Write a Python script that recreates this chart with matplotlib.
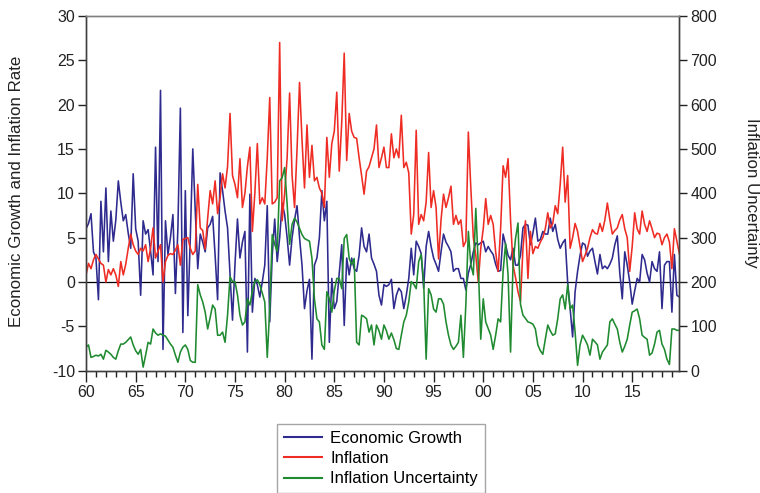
import matplotlib
matplotlib.use("Agg")
import matplotlib.pyplot as plt
import numpy as np
from matplotlib.ticker import MultipleLocator, FixedLocator

plt.rcParams['font.family'] = ['Liberation Sans', 'DejaVu Sans']
plt.rcParams['axes.unicode_minus'] = False

# Quarterly data, 1960Q1 - 2019Q4
start_year = 1960
n_quarters = 240

growth = [
    6.0, 6.6, 7.7, 3.4, 2.7, -2.0, 9.1, 3.4, 10.6, 2.3,
    8.0, 4.6, 7.0, 11.4, 9.0, 6.9, 7.6, 5.5, 3.8, 12.2,
    6.0, 4.6, -1.5, 6.9, 5.4, 5.9, 3.5, 0.8, 15.2, 2.3,
    21.6, -7.6, 6.9, 3.1, 5.0, 7.6, -1.3, 6.0, 19.6, -5.7,
    10.3, -3.8, 5.0, 15.0, 8.0, 1.5, 5.4, 4.5, 3.4, 6.1,
    6.5, 7.4, 3.0, -2.0, 12.3, 10.3, 8.0, 6.1, 1.0, -4.3,
    2.0, 7.1, 2.7, 4.5, 5.7, -7.9, 9.9, -3.4, 0.4, -0.3,
    -1.7, 0.0, 1.9, 8.6, -4.5, 3.0, 7.1, 2.3, 5.0, 8.9,
    7.6, 5.0, 1.9, 5.0, 7.0, 8.6, 5.0, 1.9, -3.0, -1.0,
    0.3, -8.7, 1.9, 2.7, 5.0, 10.3, 6.9, 9.1, -6.8, 0.4,
    -3.0, -2.2, 1.0, 4.2, -4.9, 2.7, 0.8, 2.7, 1.5, 1.2,
    3.0, 6.1, 4.0, 3.4, 5.4, 2.7, 2.0, 1.2, -1.5, -2.6,
    -0.3, -0.5, -0.3, 0.3, -3.0, -1.5, -0.7, -1.1, -3.0, -1.5,
    0.4, 3.8, 0.8, 4.6, 4.0, 3.2, -0.7, 4.0, 5.7, 4.0,
    2.7, 2.0, 1.2, 3.4, 5.4, 4.5, 4.0, 3.4, 1.2, 1.5,
    1.5, 0.4, 0.4, -0.9, 1.0, 2.0, 3.4, 4.4, 4.2, 4.4,
    4.6, 3.4, 4.0, 3.5, 3.1, 2.0, 1.2, 1.3, 5.4, 4.2,
    3.0, 2.5, 3.8, 1.9, 1.9, 3.0, 6.1, 6.5, 6.4, 4.2,
    5.5, 7.2, 4.6, 4.8, 5.7, 5.4, 5.4, 7.2, 5.7, 6.5,
    4.8, 3.8, 4.4, 4.8, 0.0, -3.0, -6.2, -1.1, 1.2, 3.0,
    4.4, 4.2, 2.9, 3.5, 3.8, 2.3, 0.9, 3.1, 1.5, 1.8,
    1.5, 2.0, 2.7, 4.2, 5.2, 1.0, -1.9, 3.4, 1.9, 0.0,
    -2.5, -1.0, 0.4, 0.0, 3.1, 2.5, 1.0, 0.0, 2.3, 1.5,
    1.2, 3.4, -3.0, 1.9, 2.3, 2.3, -3.4, 3.1, -1.5, -1.7,
]

inflation = [
    0.8, 2.1, 1.5, 2.5, 3.1, 2.6, 2.1, 1.9, 0.0, 1.4,
    0.8, 1.5, 0.8, -0.5, 2.3, 0.8, 2.0, 3.8, 5.4, 4.2,
    3.5, 3.1, 3.8, 3.5, 4.2, 2.3, 3.8, 6.1, 2.7, 3.5,
    4.2, 0.0, 2.3, 3.0, 3.2, 3.1, 3.6, 4.2, 1.9, 4.8,
    4.9, 5.0, 3.8, 3.1, 3.5, 11.0, 6.1, 5.8, 3.7, 7.2,
    10.3, 8.8, 11.4, 7.7, 9.5, 12.2, 10.6, 13.0, 19.0, 12.0,
    11.0, 9.5, 13.9, 8.4, 10.0, 13.0, 15.2, 5.7, 10.0, 15.6,
    8.8, 9.5, 8.8, 14.0, 20.8, 8.8, 9.0, 9.5, 27.0, 6.9,
    10.0, 14.0, 21.3, 12.0, 8.4, 15.0, 22.5, 16.0, 10.6, 17.7,
    11.8, 15.4, 11.4, 11.8, 10.6, 10.0, 8.4, 16.3, 11.8, 15.6,
    17.0, 21.4, 12.5, 18.0, 25.8, 13.7, 19.0, 17.0, 16.3, 16.2,
    14.0, 12.0, 9.9, 12.5, 13.0, 14.0, 15.0, 17.7, 12.9, 14.0,
    15.2, 12.9, 12.9, 16.7, 14.0, 15.0, 14.0, 18.8, 12.9, 13.5,
    12.3, 5.4, 7.6, 17.1, 6.5, 7.6, 6.9, 9.0, 14.6, 8.4,
    10.3, 8.4, 2.6, 7.0, 9.9, 8.4, 9.5, 10.8, 6.5, 7.5,
    6.5, 7.0, 4.0, 4.6, 16.9, 10.6, 5.0, 3.0, 0.0, 3.8,
    6.0, 9.4, 6.5, 7.5, 6.5, 3.4, 1.2, 6.0, 13.1, 11.8,
    13.9, 7.0, 1.9, 0.5, -1.1, -2.2, 3.8, 6.9, 0.4, 5.7,
    3.2, 4.0, 3.8, 4.5, 5.0, 6.0, 7.8, 6.1, 6.6, 8.6,
    7.7, 11.0, 15.2, 9.0, 12.0, 3.8, 5.0, 6.6, 5.7, 4.0,
    2.3, 3.0, 3.8, 5.0, 5.9, 5.5, 5.4, 6.6, 5.7, 7.0,
    8.9, 7.0, 5.4, 5.8, 6.1, 7.0, 7.6, 6.0, 5.0, 1.2,
    4.0, 7.8, 6.0, 5.4, 8.0, 6.5, 5.7, 6.9, 6.0, 5.0,
    5.5, 5.4, 4.2, 5.0, 5.4, 4.5, 1.5, 6.0, 4.6, 3.2,
]

uncertainty = [
    53, 58, 30, 32, 35, 33, 37, 26, 46, 42,
    37, 30, 26, 45, 60, 60, 64, 70, 76, 58,
    45, 37, 48, 8, 35, 64, 60, 94, 85, 80,
    83, 80, 78, 69, 60, 53, 35, 19, 42, 53,
    58, 48, 23, 19, 19, 194, 171, 155, 132, 94,
    120, 148, 139, 80, 80, 87, 64, 125, 212, 201,
    201, 171, 125, 103, 110, 162, 148, 180, 201, 205,
    194, 175, 155, 30, 140, 307, 285, 269, 428, 435,
    458, 376, 285, 330, 344, 335, 321, 307, 298, 295,
    292, 253, 162, 117, 110, 58, 48, 178, 162, 132,
    180, 208, 208, 185, 298, 307, 253, 239, 253, 64,
    58, 125, 122, 117, 87, 103, 58, 103, 90, 71,
    103, 90, 71, 85, 70, 50, 48, 80, 110, 125,
    155, 201, 195, 185, 246, 262, 201, 26, 185, 171,
    139, 132, 162, 162, 150, 110, 80, 58, 48, 55,
    64, 125, 30, 150, 314, 239, 216, 366, 239, 71,
    162, 110, 95, 80, 48, 80, 117, 110, 224, 287,
    216, 42, 239, 298, 333, 150, 125, 118, 110, 108,
    105, 94, 58, 45, 37, 71, 103, 90, 80, 83,
    117, 162, 171, 139, 194, 139, 148, 87, 12, 58,
    80, 70, 58, 35, 71, 65, 58, 26, 42, 50,
    58, 110, 117, 105, 94, 64, 42, 55, 71, 103,
    132, 135, 139, 117, 80, 75, 71, 35, 40, 60,
    87, 91, 60, 48, 26, 14, 94, 94, 91, 91,
]

x_tick_years = [1960, 1965, 1970, 1975, 1980, 1985, 1990, 1995, 2000, 2005, 2010, 2015]
x_tick_labels = ["60", "65", "70", "75", "80", "85", "90", "95", "00", "05", "10", "15"]

t = start_year + np.arange(n_quarters) / 4.0

c_blue = '#2e2a8e'
c_red = '#ee2c24'
c_green = '#1f8a30'

fig = plt.figure(figsize=(7.6, 4.93), dpi=100)
ax = fig.add_axes([0.1132, 0.2481, 0.7807, 0.7197])
ax2 = ax.twinx()

line_kw = dict(lw=1.15, solid_joinstyle='round', antialiased=True)
l1, = ax.plot(t, growth, color=c_blue, label='Economic Growth', **line_kw)
l2, = ax.plot(t, inflation, color=c_red, label='Inflation', **line_kw)
ax.axhline(0, color='black', lw=0.9, zorder=1)
l3, = ax2.plot(t, uncertainty, color=c_green, label='Inflation Uncertainty', **line_kw)

ax.set_xlim(1960, 2019.75)
ax.set_ylim(-10, 30)
ax2.set_ylim(0, 800)

ax.set_yticks(np.arange(-10, 31, 5))
ax2.set_yticks(np.arange(0, 801, 100))
ax.xaxis.set_major_locator(FixedLocator(x_tick_years))
ax.set_xticklabels(x_tick_labels)
ax.xaxis.set_minor_locator(MultipleLocator(1))

for a in (ax, ax2):
    a.tick_params(axis='both', which='major', direction='out', length=6, width=1.0,
                  labelsize=11.5, colors='#222222', pad=2)
    a.tick_params(axis='x', which='minor', direction='out', length=4, width=1.0, colors='#222222')
    for s in a.spines.values():
        s.set_color('#404040')
        s.set_linewidth(1.0)
    a.spines['top'].set_color('#808080')
ax.tick_params(axis='x', which='major', length=8)

fig.text(17/760, 1 - 191/493, 'Economic Growth and Inflation Rate', rotation=90,
         ha='center', va='center', fontsize=12.2, color='#222222')
fig.text(752/760, 1 - 193/493, 'Inflation Uncertainty', rotation=270,
         ha='center', va='center', fontsize=12.2, color='#222222')

leg = fig.legend(handles=[l1, l2, l3], loc='upper left',
                 bbox_to_anchor=(277/760, 1 - 424/493), borderaxespad=0,
                 fontsize=12, frameon=True, fancybox=False, handlelength=2.3,
                 handletextpad=0.5, labelspacing=0.32, borderpad=0.4)
leg.get_frame().set_edgecolor('#909090')
leg.get_frame().set_linewidth(1.0)
for line in leg.get_lines():
    line.set_linewidth(1.5)

fig.savefig('out.png', dpi=100)
